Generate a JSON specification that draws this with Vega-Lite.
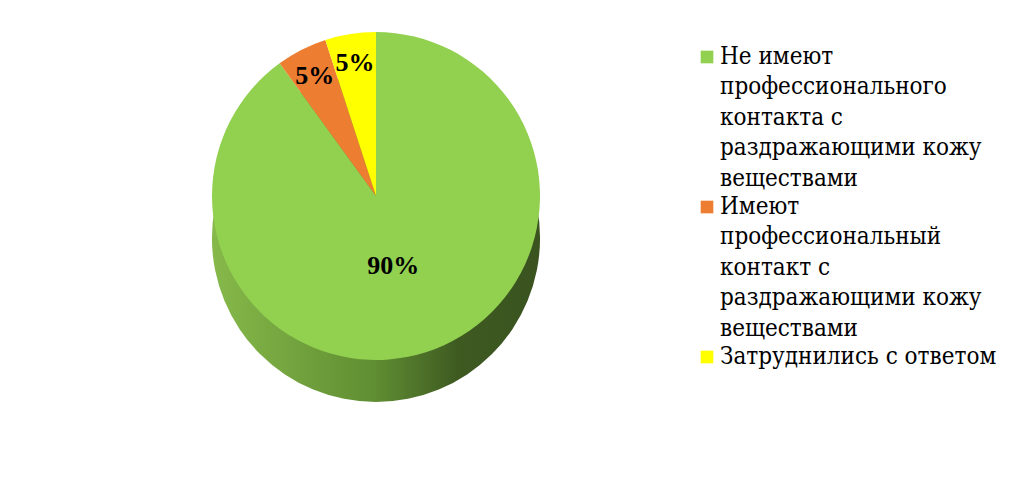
{
  "$schema": "https://vega.github.io/schema/vega-lite/v6.json",
  "width": 752,
  "height": 392,
  "padding": 0,
  "background": "white",
  "config": {"view": {"stroke": null}, "legend": {"padding": 0}},
  "data": {
    "values": [
      {"category": "Не имеют профессионального контакта с раздражающими кожу веществами", "value": 90, "label": "90%"},
      {"category": "Имеют профессиональный контакт с раздражающими кожу веществами", "value": 5, "label": "5%"},
      {"category": "Затруднились с ответом", "value": 5, "label": "5%"}
    ]
  },
  "layer": [
    {
      "transform": [{"aggregate": [{"op": "sum", "field": "value", "as": "total"}]}],
      "mark": {
        "type": "arc",
        "outerRadius": 164,
        "yOffset": 42,
        "color": {
          "gradient": "linear",
          "x1": 0, "y1": 0, "x2": 1, "y2": 0,
          "stops": [
            {"offset": 0, "color": "#86b94a"},
            {"offset": 0.5, "color": "#5f8d32"},
            {"offset": 0.75, "color": "#3e5a21"},
            {"offset": 1, "color": "#3a531f"}
          ]
        }
      },
      "encoding": {"theta": {"field": "total", "type": "quantitative"}}
    },
    {
      "mark": {"type": "arc", "outerRadius": 164},
      "encoding": {
        "theta": {"field": "value", "type": "quantitative", "stack": true},
        "order": {"field": "category", "sort": "descending"},
        "color": {
          "field": "category",
          "type": "nominal",
          "scale": {
            "domain": [
              "Не имеют профессионального контакта с раздражающими кожу веществами",
              "Имеют профессиональный контакт с раздражающими кожу веществами",
              "Затруднились с ответом"
            ],
            "range": ["#92d050", "#ed7d31", "#ffff00"]
          },
          "legend": {
            "title": null,
            "orient": "none",
            "legendX": 695,
            "legendY": 45,
            "padding": 0,
            "symbolType": "square",
            "symbolSize": 160,
            "symbolStrokeWidth": 0,
            "symbolOpacity": 1,
            "labelFont": "DejaVu Serif Condensed",
            "labelFontSize": 24,
            "labelColor": "#000000",
            "labelLimit": 400,
            "labelOffset": 1,
            "rowPadding": 4,
            "labelExpr": "datum.label == 'Не имеют профессионального контакта с раздражающими кожу веществами' ? ['Не имеют','профессионального','контакта с','раздражающими кожу','веществами'] : datum.label == 'Имеют профессиональный контакт с раздражающими кожу веществами' ? ['Имеют','профессиональный','контакт с','раздражающими кожу','веществами'] : datum.label",
            "encode": {"labels": {"update": {"lineHeight": {"value": 30.4}}}}
          }
        }
      }
    },
    {
      "transform": [{"filter": "datum.value > 50"}],
      "mark": {"type": "text", "radius": 72, "font": "Liberation Serif", "fontSize": 26, "fontWeight": "bold", "color": "#000000", "theta": 2.9},
      "encoding": {"text": {"field": "label"}}
    },
    {
      "mark": {"type": "text", "radius": 135, "font": "Liberation Serif", "fontSize": 26, "fontWeight": "bold", "color": "#000000"},
      "encoding": {
        "theta": {"field": "value", "type": "quantitative", "stack": true},
        "order": {"field": "category", "sort": "descending"},
        "text": {"condition": {"test": "datum.value < 50", "field": "label"}, "value": ""}
      }
    }
  ]
}
